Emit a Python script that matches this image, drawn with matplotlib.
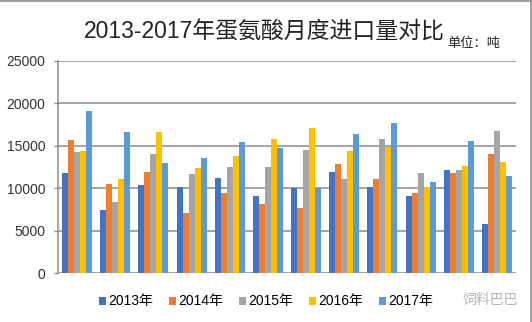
import matplotlib
matplotlib.use("Agg")
import matplotlib.pyplot as plt
from matplotlib.lines import Line2D
from matplotlib.patches import Patch
import numpy as np

plt.rcParams['font.family'] = ['Liberation Sans', 'Noto Sans CJK SC', 'DejaVu Sans']

months = list(range(1, 13))
years = ["2013年", "2014年", "2015年", "2016年", "2017年"]
v2013 = [11850, 7500, 10450, 10200, 11250, 9050, 10100, 11950, 10200, 9050, 12200, 5800]
v2014 = [15700, 10550, 11950, 7050, 9400, 8200, 7650, 12900, 11150, 9500, 11850, 14100]
v2015 = [14300, 8450, 14050, 11750, 12550, 12550, 14550, 11050, 15850, 11850, 12200, 16800]
v2016 = [14400, 11150, 16650, 12450, 13850, 15850, 17150, 14400, 14900, 10200, 12650, 13150]
v2017 = [19100, 16650, 13000, 13600, 15500, 14800, 10000, 16400, 17700, 10700, 15600, 11400]
yticks = [0, 5000, 10000, 15000, 20000, 25000]
colors = ["#4472C4", "#ED7D31", "#A5A5A5", "#FFC000", "#5B9BD5"]

series = [v2013, v2014, v2015, v2016, v2017]

fig = plt.figure(figsize=(5.32, 3.22), dpi=100)
ax = fig.add_axes([58 / 532, 1 - 273.3 / 322, (516 - 58) / 532, (273.3 - 61) / 322])

x = np.arange(len(months))
w = 0.157
for i, (vals, c) in enumerate(zip(series, colors)):
    ax.bar(x + (i - 2) * w, vals, width=w, color=c, linewidth=0, zorder=3)

ax.set_xlim(-0.5, len(months) - 0.5)
ax.set_ylim(0, 25000)
ax.set_yticks(yticks)
ax.set_yticklabels([str(t) for t in yticks], fontsize=10, color="#333333")
ax.set_xticks([])
ax.yaxis.grid(True, color="#8c8c8c", linewidth=1.1, zorder=0)
ax.tick_params(axis="y", length=3, width=1, color="#8c8c8c", pad=6)
for s in ["top", "right", "bottom"]:
    ax.spines[s].set_visible(False)
ax.spines["left"].set_color("#8c8c8c")
ax.spines["left"].set_linewidth(1.1)

fig.text(0.497, 1 - 32 / 322, "2013-2017年蛋氨酸月度进口量对比", ha="center", va="center",
         fontsize=16.5, color="#222222")
fig.text(447 / 532, 1 - 43.5 / 322, "单位：吨", ha="left", va="center", fontsize=9.5,
         color="#222222")

handles = [Patch(facecolor=c, edgecolor="none") for c in colors]
fig.legend(handles, years, loc="center", bbox_to_anchor=(0.50, 1 - 301.5 / 322), ncol=5,
           frameon=False, fontsize=10, handlelength=0.5, handleheight=0.5,
           handletextpad=0.15, columnspacing=1.15, borderaxespad=0)

fig.text(463 / 532, 1 - 300 / 322, "饲料巴巴", ha="left", va="center", fontsize=10,
         color="#b5b5b5")

# frame lines along top and right edges
fig.add_artist(Line2D([0, 1], [0.998, 0.998], transform=fig.transFigure, color="#8c8c8c", lw=1.2))
fig.add_artist(Line2D([0.998, 0.998], [0, 1], transform=fig.transFigure, color="#8c8c8c", lw=1.2))

fig.savefig("out.png", dpi=100)
